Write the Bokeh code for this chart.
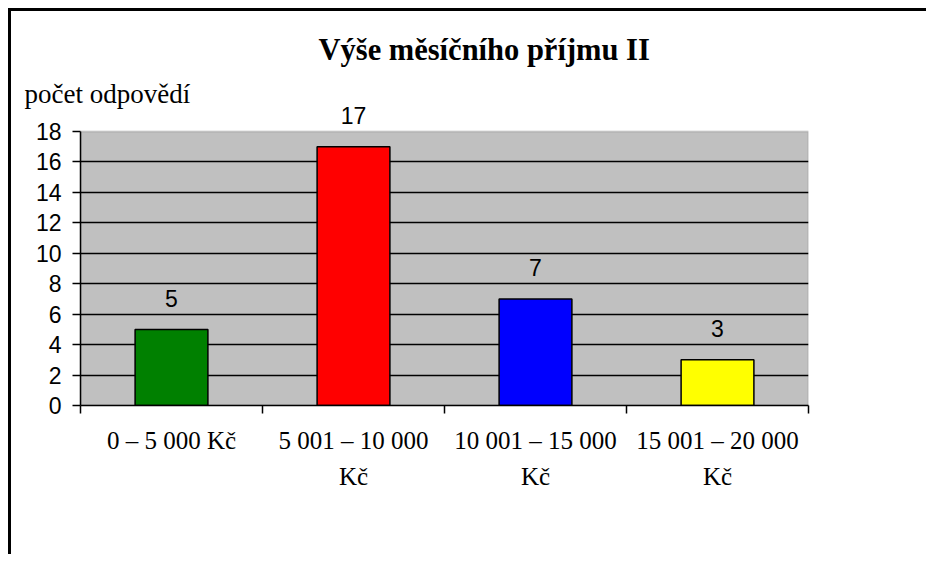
from bokeh.plotting import figure
from bokeh.models import FixedTicker, Label, Title, Range1d, BoxAnnotation
from bokeh.embed import file_html
from bokeh.resources import INLINE

categories = ["0 – 5 000 Kč", "5 001 – 10 000\nKč", "10 001 – 15 000\nKč", "15 001 – 20 000\nKč"]
values = [5, 17, 7, 3]
colors = ["#008000", "#ff0000", "#0000ff", "#ffff00"]
y_ticks = [0, 2, 4, 6, 8, 10, 12, 14, 16, 18]
title_text = "Výše měsíčního příjmu II"
y_label = "počet odpovědí"

xpos = [i + 0.5 for i in range(len(categories))]
y_max = y_ticks[-1]

W, H = 918, 546
BL, BT = 69, 94
FW = 728
PX18 = 274            # pixel height of the 0..18 plot area
FH = 300              # frame extends above the plot area so value labels are not clipped
y_end = y_max * FH / PX18

p = figure(width=W, height=H, output_backend="svg", toolbar_location=None,
           x_range=Range1d(0, len(categories)), y_range=Range1d(0, y_end),
           min_border_left=BL, min_border_top=BT,
           min_border_right=W - BL - FW, min_border_bottom=H - BT - FH,
           title=None)
p.styles = {"border-left": "3px solid black", "border-top": "3px solid black",
            "margin-left": "8px", "margin-top": "8px"}

p.background_fill_color = "white"
p.border_fill_color = "white"
p.outline_line_color = None

p.add_layout(BoxAnnotation(bottom=0, top=y_max, fill_color="#c0c0c0", fill_alpha=1,
                           line_color="#808080", line_width=2, level="image"))

p.vbar(x=xpos, top=values, width=0.4, bottom=0, fill_color=colors,
       line_color="black", line_width=1.5)

for xv, v in zip(xpos, values):
    p.add_layout(Label(x=xv, y=v, text=str(v), y_offset=31,
                       text_align="center", text_baseline="middle",
                       text_font="Liberation Sans", text_font_size="23px",
                       text_color="black"))

# axes
p.xaxis.ticker = FixedTicker(ticks=xpos, minor_ticks=list(range(len(categories) + 1)))
p.xaxis.major_label_overrides = {x: c for x, c in zip(xpos, categories)}
p.xaxis.major_tick_line_color = None
p.xaxis.minor_tick_out = 8
p.xaxis.minor_tick_in = 0
p.xaxis.minor_tick_line_width = 1.5
p.xaxis.minor_tick_line_color = "black"
p.xaxis.axis_line_width = 1.5
p.xaxis.axis_line_color = "black"
p.xaxis.major_label_text_font = "Liberation Serif"
p.xaxis.major_label_text_font_size = "25px"
p.xaxis.major_label_text_color = "black"
p.xaxis.major_label_text_line_height = 1.36
p.xaxis.major_label_standoff = 13

p.yaxis.ticker = FixedTicker(ticks=y_ticks)
p.yaxis.bounds = (0, y_max)
p.yaxis.minor_tick_line_color = None
p.yaxis.major_tick_out = 8
p.yaxis.major_tick_in = 0
p.yaxis.major_tick_line_width = 1.5
p.yaxis.major_tick_line_color = "black"
p.yaxis.axis_line_width = 1.5
p.yaxis.axis_line_color = "black"
p.yaxis.major_label_text_font = "Liberation Sans"
p.yaxis.major_label_text_font_size = "23px"
p.yaxis.major_label_text_color = "black"
p.yaxis.major_label_standoff = 11

p.xgrid.grid_line_color = None
p.ygrid.ticker = FixedTicker(ticks=y_ticks[1:-1])
p.ygrid.grid_line_color = "black"
p.ygrid.grid_line_width = 1.5

p.add_layout(Title(text=y_label, align="left", offset=-56,
                   text_font="Liberation Serif", text_font_size="27px",
                   text_font_style="normal", text_color="black", standoff=-6), "above")
p.add_layout(Title(text=title_text, align="left", offset=238,
                   text_font="Liberation Serif", text_font_size="30.5px",
                   text_font_style="bold", text_color="black", standoff=26), "above")

open("out.html", "w").write(file_html(p, INLINE))
